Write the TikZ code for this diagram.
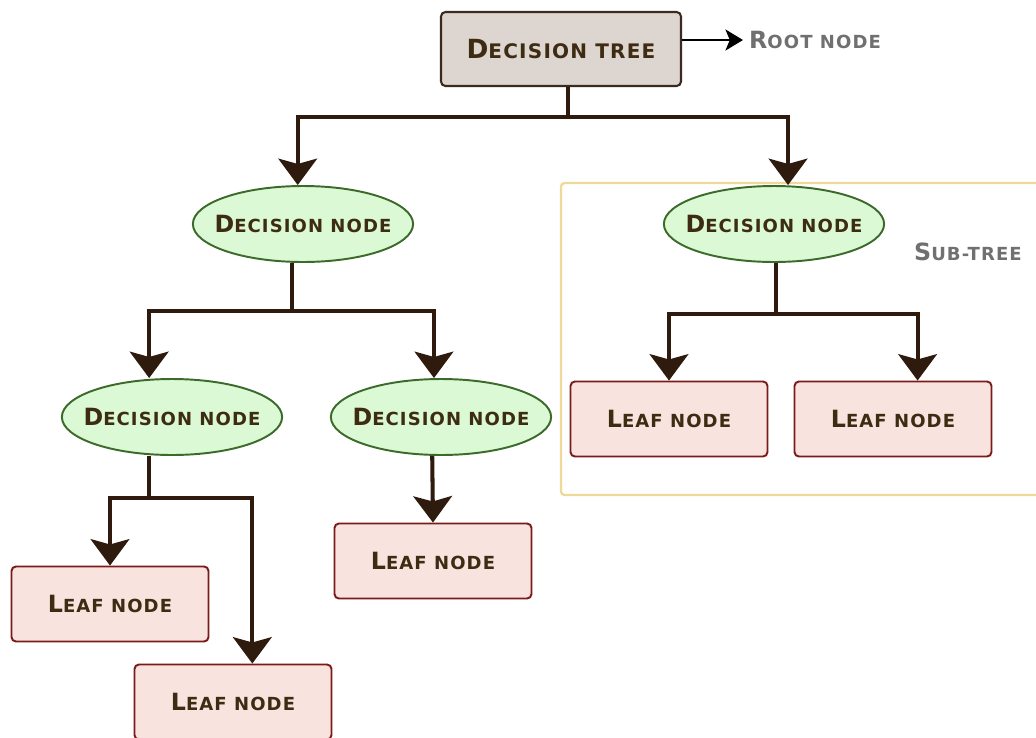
\documentclass[tikz,border=0pt]{standalone}
\usepackage{fontspec}
\usepackage{tikz}
\usetikzlibrary{arrows.meta,shapes.geometric,calc}
\newfontfamily\treefont[LetterSpace=6]{DejaVu Sans}
\definecolor{txtbrown}{HTML}{3D2B12}
\definecolor{edgebrown}{HTML}{2F1A0E}
\definecolor{rootfill}{HTML}{DDD5D0}
\definecolor{rootline}{HTML}{3A2B1E}
\definecolor{dnfill}{HTML}{DBF9D4}
\definecolor{dnline}{HTML}{3C6A2A}
\definecolor{leaffill}{HTML}{F9E3DF}
\definecolor{leafline}{HTML}{7B1A1A}
\definecolor{subline}{HTML}{F0D898}
\definecolor{greytxt}{HTML}{707070}
\makeatletter
\newcommand\fakesc[2]{#1{\fontsize{\fpeval{0.76*\f@size}}{0}\selectfont #2}}
\makeatother

\begin{document}
\begin{tikzpicture}[x=0.02cm,y=-0.02cm,
	rootbox/.style={draw=rootline,fill=rootfill,line width=1.2pt,rounded corners=2.5pt,minimum width=4.8cm,minimum height=1.48cm,text=txtbrown,font=\treefont\bfseries\fontsize{15}{17}\selectfont},
	dnode/.style={ellipse,draw=dnline,fill=dnfill,line width=1.1pt,minimum width=4.4cm,minimum height=1.52cm,inner xsep=-6pt,inner ysep=0pt,text=txtbrown,font=\treefont\bfseries\fontsize{13.5}{15}\selectfont},
	leaf/.style={draw=leafline,fill=leaffill,line width=1.1pt,rounded corners=2.5pt,minimum width=3.94cm,minimum height=1.5cm,text=txtbrown,font=\treefont\bfseries\fontsize{13.5}{15}\selectfont},
	greylbl/.style={text=greytxt,font=\treefont\bfseries\fontsize{13.5}{15}\selectfont},
	edge/.style={draw=edgebrown,line width=2.3pt,-{Stealth[length=15pt,width=22pt,inset=3pt]}},
	rootarrow/.style={draw=black,line width=1.1pt,-{Stealth[length=10pt,width=12pt,inset=2.5pt]}}]
	\clip (0,0) rectangle (1036,738);
	
	% sub-tree frame
	\draw [subline,line width=1.3pt,rounded corners=2pt] (561,183) rectangle (1050,495);
	\node[greylbl] (sublbl) at (968,252) {\fakesc{S}{UB-TREE}};
	
	\node[rootbox] (root) at (561,49) {\fakesc{D}{ECISION TREE}};
	\node[greylbl,anchor=west] (rootlbl) at (743,40) {\fakesc{R}{OOT NODE}};
	
	\node[dnode] (dn1) at (303,224) {\fakesc{D}{ECISION NODE}};
	\node[dnode] (dn2) at (774,224) {\fakesc{D}{ECISION NODE}};
	\node[dnode] (dn3) at (172,417) {\fakesc{D}{ECISION NODE}};
	\node[dnode] (dn4) at (441,417) {\fakesc{D}{ECISION NODE}};
	
	\node[leaf] (leaf1) at (669,419) {\fakesc{L}{EAF NODE}};
	\node[leaf] (leaf2) at (893,419) {\fakesc{L}{EAF NODE}};
	\node[leaf] (leaf3) at (110,604) {\fakesc{L}{EAF NODE}};
	\node[leaf] (leaf4) at (233,702) {\fakesc{L}{EAF NODE}};
	\node[leaf] (leaf5) at (433,561) {\fakesc{L}{EAF NODE}};
	
	% connectors
	\draw[rootarrow] (root.east |- rootlbl.west) -- (rootlbl.west);
	\draw[edge] ([xshift=4pt]root.south) -- ++(0,30) -| ([xshift=-3pt]dn1.north);
	\draw[edge] ([xshift=4pt]root.south) -- ++(0,30) -| ([xshift=8pt]dn2.north);
	\draw[edge] ([xshift=-6pt]dn1.south) -- ++(0,48) -| ([xshift=-13pt]dn3.north);
	\draw[edge] ([xshift=-6pt]dn1.south) -- ++(0,48) -| ([xshift=-4pt]dn4.north);
	\draw[edge] ([xshift=1pt]dn2.south) -- ++(0,51) -| (leaf1.north);
	\draw[edge] ([xshift=1pt]dn2.south) -- ++(0,51) -| ([xshift=14pt]leaf2.north);
	\draw[edge] ([xshift=-13pt]dn3.south) -- ++(0,42) -| (leaf3.north);
	\draw[edge] ([xshift=-13pt]dn3.south) -- ++(0,42) -| ([xshift=11pt]leaf4.north);
	\draw[edge] ([xshift=-5pt]dn4.south) -- (leaf5.north);
\end{tikzpicture}
\end{document}
